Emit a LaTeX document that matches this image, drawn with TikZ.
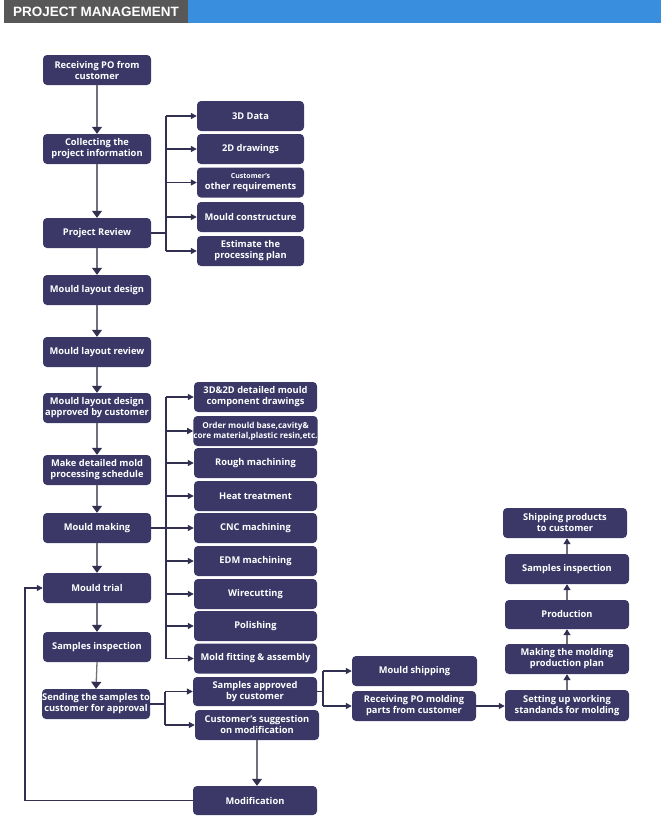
\documentclass[tikz,border=0pt]{standalone}
\usepackage{fontspec}
\setmainfont{Open Sans}
\newfontfamily\titlefont{Liberation Sans}
\usetikzlibrary{arrows.meta,calc}
\definecolor{navy}{RGB}{59,56,104}
\definecolor{titlegray}{RGB}{88,88,88}
\definecolor{titleblue}{RGB}{57,142,222}
\definecolor{linegray}{RGB}{112,112,122}
\definecolor{linedark}{RGB}{50,48,80}
\begin{document}
\begin{tikzpicture}[x=1pt,y=-1pt,
  bx/.style={fill=navy,rounded corners=4pt,text=white,align=center,inner sep=0pt,
    font=\fontsize{9.3}{11}\selectfont\bfseries},
  mainbox/.style={bx,minimum width=108pt,minimum height=30pt},
  gonebox/.style={bx,minimum width=107pt,minimum height=30pt},
  gtwobox/.style={bx,minimum width=123pt,minimum height=30pt},
  gthreebox/.style={bx,minimum width=124pt,minimum height=30pt},
  mainarr/.style={draw=linegray,line width=1.3pt,-{Triangle[width=10pt,length=7pt,color=linedark]}},
  upsarr/.style={draw=linegray,line width=1.3pt,-{Triangle[width=7pt,length=6pt,color=linedark]}},
  branchline/.style={draw=linedark,line width=1.6pt},
  brarr/.style={draw=linedark,line width=1.3pt,-{Triangle[width=6pt,length=6pt,color=linedark]}},
  smallfont/.style={font=\fontsize{8.2}{10}\selectfont\bfseries}
]
\useasboundingbox (0,0) rectangle (661,819);
\fill[white] (0,0) rectangle (661,819);
% title bar
\fill[titlegray] (4,0) rectangle (188,23);
\fill[titleblue] (188,0) rectangle (661,23);
\node[font=\titlefont\bfseries\fontsize{13.5}{14}\selectfont,text=white,anchor=west,inner sep=0pt] (title) at (13,12) {PROJECT MANAGEMENT};

% main column
\node[mainbox] (r1) at (97,70) {Receiving PO from\\customer};
\node[mainbox] (r2) at (97,149) {Collecting the\\project information};
\node[mainbox] (r3) at (97,233) {Project Review};
\node[mainbox] (r4) at (97,290) {Mould layout design};
\node[mainbox] (r5) at (97,352) {Mould layout review};
\node[mainbox] (r6) at (97,408) {Mould layout design\\approved by customer};
\node[mainbox] (r7) at (97,470) {Make detailed mold\\processing schedule};
\node[mainbox] (r8) at (97,528) {Mould making};
\node[mainbox] (r9) at (97,588) {Mould trial};
\node[mainbox] (r10) at (97,647) {Samples inspection};
\node[mainbox] (r11) at (96,704) {Sending the samples to\\customer for approval};

\foreach \a/\b in {r1/r2,r2/r3,r3/r4,r4/r5,r5/r6,r6/r7,r7/r8,r8/r9,r9/r10,r10/r11}
  \draw[mainarr] (\a.south) -- (\b.north);

% group 1
\node[gonebox] (ga) at (250.5,116) {3D Data};
\node[gonebox] (gb) at (250.5,149) {2D drawings};
\node[gonebox] (gc) at (250.5,182.5) {{\fontsize{7}{8.5}\selectfont Customer's}\\other requirements};
\node[gonebox] (gd) at (250.5,217) {Mould constructure};
\node[gonebox] (ge) at (250.5,251) {Estimate the\\processing plan};
\coordinate (bone) at (166,0);
\draw[branchline] (r3.east) -- (r3.east -| bone);
\draw[branchline] (ga.west -| bone) -- (ge.west -| bone);
\foreach \n in {ga,gb,gc,gd,ge}
  \draw[brarr] (\n.west -| bone) -- (\n.west);

% group 2
\node[gtwobox] (gf) at (255.5,397) {3D\&2D detailed mould\\component drawings};
\node[gtwobox,smallfont] (gg) at (255.5,431) {Order mould base,cavity\&\\core material,plastic resin,etc.};
\node[gtwobox] (gh) at (255.5,463) {Rough machining};
\node[gtwobox] (gi) at (255.5,496) {Heat treatment};
\node[gtwobox] (gj) at (255.5,528) {CNC machining};
\node[gtwobox] (gk) at (255.5,561) {EDM machining};
\node[gtwobox] (gl) at (255.5,594) {Wirecutting};
\node[gtwobox] (gm) at (255.5,626) {Polishing};
\node[gtwobox] (gn) at (255.5,658.5) {Mold fitting \& assembly};
\draw[branchline] (r8.east) -- (r8.east -| bone);
\draw[branchline] (gf.west -| bone) -- (gn.west -| bone);
\foreach \n in {gf,gg,gh,gi,gj,gk,gl,gm,gn}
  \draw[brarr] (\n.west -| bone) -- (\n.west);

% group 3
\node[gthreebox,minimum height=29pt] (go) at (255,691.5) {Samples approved\\by customer};
\node[gthreebox] (gp) at (257,725) {Customer's suggestion\\on modification};
\node[gthreebox,minimum height=29pt] (gq) at (255,800.5) {Modification};
\coordinate (btwo) at (165,0);
\draw[branchline] (r11.east) -- (r11.east -| btwo);
\draw[branchline] (go.west -| btwo) -- (gp.west -| btwo);
\foreach \n in {go,gp}
  \draw[brarr] (\n.west -| btwo) -- (\n.west);
\draw[mainarr] (gp.south) -- (gp.south |- gq.north);
\coordinate (fb) at (25,0);
\draw[brarr] (gq.west) -- (gq.west -| fb) |- (r9.west);

% group 4
\node[gthreebox,minimum width=125pt] (gs) at (414.5,671) {Mould shipping};
\node[gthreebox] (gr) at (414,706) {Receiving PO molding\\parts from customer};
\coordinate (bthree) at (323,0);
\draw[branchline] (go.east) -- (go.east -| bthree);
\draw[branchline] (gs.west -| bthree) -- (gr.west -| bthree);
\foreach \n in {gs,gr}
  \draw[brarr] (\n.west -| bthree) -- (\n.west);

% right column
\node[gthreebox,minimum height=31pt] (pa) at (567,705.5) {Setting up working\\standands for molding};
\node[gthreebox] (pb) at (567,659) {Making the molding\\production plan};
\node[gthreebox,minimum height=29pt] (pc) at (567,614.5) {Production};
\node[gthreebox] (pd) at (567,569) {Samples inspection};
\node[gthreebox] (pe) at (565,523) {Shipping products\\to customer};
\draw[brarr] (gr.east) -- (gr.east -| pa.west);
\foreach \a/\b in {pa/pb,pb/pc,pc/pd,pd/pe}
  \draw[upsarr] (\a.north) -- (\a.north |- \b.south);
\end{tikzpicture}
\end{document}
